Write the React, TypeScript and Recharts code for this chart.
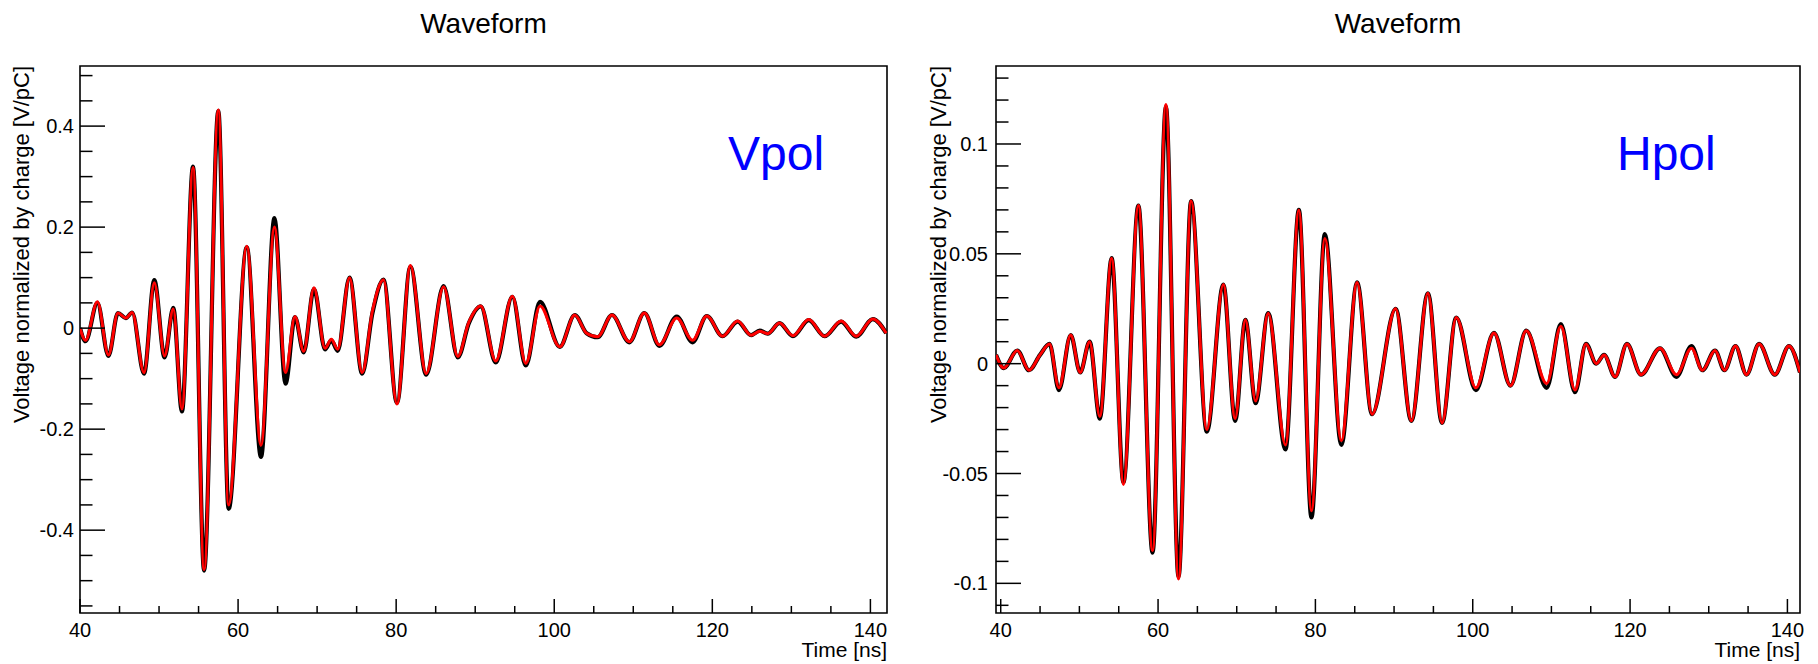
import React from "react";
import { LineChart, Line, XAxis, YAxis, ReferenceArea } from "recharts";

const FONT = '"Liberation Sans", Arial, Helvetica, sans-serif';

// ── Vpol (left panel) ── time [ns], measured (black), simulated (red)
const vpolTime = [
  40.0, 40.7, 42.2, 43.6, 44.8, 45.8, 46.6, 48.1, 49.4, 50.7, 51.8, 52.9, 54.3, 55.7,
  57.5, 58.8, 61.1, 62.9, 64.6, 66.0, 67.2, 68.3, 69.6, 71.0, 71.8, 72.6, 74.1, 75.7,
  77.0, 78.4, 80.1, 81.8, 83.8, 86.0, 87.8, 89.2, 90.7, 92.6, 94.7, 96.4, 98.2, 100.7,
  102.6, 104.1, 105.5, 107.3, 109.5, 111.4, 113.3, 115.5, 117.5, 119.3, 121.3, 123.2,
  124.9, 126.0, 127.0, 128.5, 130.2, 132.2, 134.2, 136.3, 138.2, 140.3, 142.0,
];
const vpolMeas = [
  0.0, -0.026, 0.05, -0.055, 0.03, 0.02, 0.031, -0.09, 0.095, -0.058, 0.04, -0.165, 0.32, -0.48,
  0.43, -0.358, 0.16, -0.255, 0.218, -0.11, 0.022, -0.048, 0.078, -0.042, -0.024, -0.045, 0.1, -0.09,
  0.03, 0.096, -0.148, 0.122, -0.092, 0.083, -0.058, 0.01, 0.043, -0.068, 0.062, -0.074, 0.052, -0.037,
  0.026, -0.01, -0.018, 0.026, -0.028, 0.03, -0.035, 0.023, -0.028, 0.024, -0.016, 0.013,
  -0.014, -0.005, -0.011, 0.01, -0.016, 0.016, -0.016, 0.013, -0.017, 0.018, -0.01,
];
const vpolSim = [
  0.0, -0.024, 0.052, -0.053, 0.03, 0.02, 0.031, -0.088, 0.09, -0.055, 0.038, -0.16, 0.318, -0.478,
  0.432, -0.35, 0.162, -0.232, 0.2, -0.088, 0.023, -0.046, 0.08, -0.04, -0.022, -0.042, 0.1, -0.088,
  0.034, 0.096, -0.15, 0.124, -0.09, 0.082, -0.056, 0.012, 0.044, -0.065, 0.063, -0.07, 0.044, -0.037,
  0.026, -0.01, -0.017, 0.026, -0.027, 0.03, -0.033, 0.02, -0.024, 0.024, -0.016, 0.014,
  -0.014, -0.006, -0.011, 0.01, -0.015, 0.017, -0.016, 0.014, -0.016, 0.018, -0.01,
];

// ── Hpol (right panel) ──
const hpolTime = [
  39.4, 40.4, 42.1, 43.6, 45.0, 46.2, 47.4, 48.9, 50.1, 51.3, 52.6, 54.1, 55.6, 57.5,
  59.3, 61.0, 62.6, 64.2, 66.2, 68.3, 69.8, 71.1, 72.4, 74.0, 76.2, 77.9, 79.5, 81.2,
  83.3, 85.3, 87.2, 90.2, 92.2, 94.3, 96.1, 97.9, 100.4, 102.7, 104.8, 106.8, 109.4, 111.2,
  113.0, 114.4, 115.7, 116.7, 118.1, 119.6, 121.4, 123.8, 125.9, 127.8, 129.2, 130.8,
  132.0, 133.4, 134.8, 136.4, 138.4, 140.2, 141.6,
];
const hpolMeas = [
  0.004, -0.002, 0.006, -0.003, 0.004, 0.009, -0.012, 0.013, -0.004, 0.01, -0.025, 0.048, -0.054, 0.072,
  -0.086, 0.117, -0.097, 0.074, -0.031, 0.036, -0.026, 0.02, -0.018, 0.023, -0.039, 0.07, -0.07, 0.059,
  -0.037, 0.037, -0.023, 0.025, -0.026, 0.032, -0.027, 0.021, -0.012, 0.014, -0.01, 0.015, -0.011, 0.018,
  -0.013, 0.009, 0.0, 0.004, -0.006, 0.009, -0.005, 0.007, -0.006, 0.008, -0.003, 0.006,
  -0.003, 0.008, -0.005, 0.009, -0.005, 0.008, -0.004,
];
const hpolSim = [
  0.004, -0.002, 0.006, -0.003, 0.004, 0.009, -0.011, 0.013, -0.004, 0.01, -0.024, 0.048, -0.055, 0.072,
  -0.085, 0.118, -0.098, 0.074, -0.03, 0.036, -0.025, 0.02, -0.017, 0.023, -0.037, 0.07, -0.067, 0.057,
  -0.035, 0.037, -0.023, 0.025, -0.026, 0.032, -0.027, 0.021, -0.011, 0.014, -0.01, 0.015, -0.009, 0.017,
  -0.012, 0.009, 0.0, 0.004, -0.006, 0.009, -0.005, 0.007, -0.005, 0.007, -0.003, 0.006,
  -0.003, 0.008, -0.005, 0.009, -0.005, 0.008, -0.004,
];

// ── ticks ──
const xTicks = [40, 45, 50, 55, 60, 65, 70, 75, 80, 85, 90, 95, 100, 105, 110, 115, 120, 125, 130, 135, 140];
const xMajor = [40, 60, 80, 100, 120, 140];
const vpolYTicks = [
  -0.55, -0.5, -0.45, -0.4, -0.35, -0.3, -0.25, -0.2, -0.15, -0.1, -0.05, 0,
  0.05, 0.1, 0.15, 0.2, 0.25, 0.3, 0.35, 0.4, 0.45, 0.5,
];
const vpolYMajor = [-0.4, -0.2, 0, 0.2, 0.4];
const hpolYTicks = [
  -0.11, -0.1, -0.09, -0.08, -0.07, -0.06, -0.05, -0.04, -0.03, -0.02, -0.01, 0,
  0.01, 0.02, 0.03, 0.04, 0.05, 0.06, 0.07, 0.08, 0.09, 0.1, 0.11, 0.12, 0.13,
];
const hpolYMajor = [-0.1, -0.05, 0, 0.05, 0.1];

const isIn = (list: number[], v: number) => list.some((m) => Math.abs(m - v) < 1e-9);

function XTick({ x, y, payload }: any) {
  const major = isIn(xMajor, payload.value);
  return (
    <g>
      <line x1={x} x2={x} y1={y} y2={y - (major ? 14 : 7)} stroke="#000" strokeWidth={1.5} />
      {major && (
        <text x={x} y={y + 24} textAnchor="middle" fontSize={20} fontFamily={FONT} fill="#000">
          {payload.value}
        </text>
      )}
    </g>
  );
}

function YTick({ x, y, payload, majors, gap }: any) {
  const major = isIn(majors, payload.value);
  return (
    <g>
      <line x1={x} x2={x + (major ? 25 : 12.5)} y1={y} y2={y} stroke="#000" strokeWidth={1.5} />
      {major && (
        <text x={x - gap} y={y + 7} textAnchor="end" fontSize={20} fontFamily={FONT} fill="#000">
          {String(Math.round(payload.value * 1000) / 1000)}
        </text>
      )}
    </g>
  );
}

interface PanelProps {
  left: number;
  time: number[];
  meas: number[];
  sim: number[];
  xDomain: [number, number];
  yDomain: [number, number];
  yTicks: number[];
  yMajor: number[];
  plotLeft: number;
  plotRight: number;
  labelGap: number;
}

const W = 909;
const H = 664;
const PLOT_TOP = 66;
const PLOT_BOTTOM = 613;

function Panel({ left, time, meas, sim, xDomain, yDomain, yTicks, yMajor, plotLeft, plotRight, labelGap }: PanelProps) {
  const data = time.map((t, i) => ({ t, meas: meas[i], sim: sim[i] }));
  // axes are 1px wide/high (a zero-sized axis is not drawn), margins compensate
  return (
    <div style={{ position: "absolute", left, top: 0 }}>
      <LineChart
        width={W}
        height={H}
        data={data}
        margin={{ top: PLOT_TOP, bottom: H - PLOT_BOTTOM - 1, left: plotLeft - 1, right: W - plotRight }}
      >
        <XAxis
          dataKey="t"
          type="number"
          domain={xDomain}
          allowDataOverflow
          ticks={xTicks}
          interval={0}
          height={1}
          tickSize={0}
          tickMargin={0}
          tickLine={false}
          axisLine={false}
          tick={<XTick />}
        />
        <YAxis
          type="number"
          domain={yDomain}
          allowDataOverflow
          ticks={yTicks}
          interval={0}
          width={1}
          tickSize={0}
          tickMargin={0}
          tickLine={false}
          axisLine={false}
          tick={<YTick majors={yMajor} gap={labelGap} />}
        />
        <Line
          dataKey="meas"
          type="monotone"
          stroke="#000"
          strokeWidth={4.2}
          dot={false}
          activeDot={false}
          isAnimationActive={false}
        />
        <Line
          dataKey="sim"
          type="monotone"
          stroke="#ff0000"
          strokeWidth={3}
          dot={false}
          activeDot={false}
          isAnimationActive={false}
        />
        <ReferenceArea
          x1={xDomain[0]}
          x2={xDomain[1]}
          y1={yDomain[0]}
          y2={yDomain[1]}
          fill="none"
          fillOpacity={0}
          stroke="#000"
          strokeWidth={1.6}
          ifOverflow="visible"
        />
      </LineChart>
    </div>
  );
}

export default function App() {
  const yTitle = "Voltage normalized by charge [V/pC]";
  return (
    <div style={{ position: "absolute", left: 0, top: 0, width: 1818, height: 664, background: "#fff" }}>
      <Panel
        left={0}
        time={vpolTime}
        meas={vpolMeas}
        sim={vpolSim}
        xDomain={[40, 142.1]}
        yDomain={[-0.564, 0.519]}
        yTicks={vpolYTicks}
        yMajor={vpolYMajor}
        plotLeft={80}
        plotRight={887}
        labelGap={6}
      />
      <Panel
        left={909}
        time={hpolTime}
        meas={hpolMeas}
        sim={hpolSim}
        xDomain={[39.4, 141.6]}
        yDomain={[-0.1135, 0.1355]}
        yTicks={hpolYTicks}
        yMajor={hpolYMajor}
        plotLeft={87}
        plotRight={891}
        labelGap={8}
      />
      <svg
        width={1818}
        height={664}
        style={{ position: "absolute", left: 0, top: 0, pointerEvents: "none" }}
        fontFamily={FONT}
      >
        <text x={483.5} y={33} textAnchor="middle" fontSize={28} fill="#000">Waveform</text>
        <text x={1398} y={33} textAnchor="middle" fontSize={28} fill="#000">Waveform</text>
        <text x={728} y={170} fontSize={48} fill="#0000ff">Vpol</text>
        <text x={1617} y={170} fontSize={48} fill="#0000ff">Hpol</text>
        <text x={887} y={657} textAnchor="end" fontSize={21} fill="#000">Time [ns]</text>
        <text x={1800} y={657} textAnchor="end" fontSize={21} fill="#000">Time [ns]</text>
        <text x={29} y={66} transform="rotate(-90 29 66)" textAnchor="end" fontSize={22} fill="#000">{yTitle}</text>
        <text x={946} y={66} transform="rotate(-90 946 66)" textAnchor="end" fontSize={22} fill="#000">{yTitle}</text>
      </svg>
    </div>
  );
}
